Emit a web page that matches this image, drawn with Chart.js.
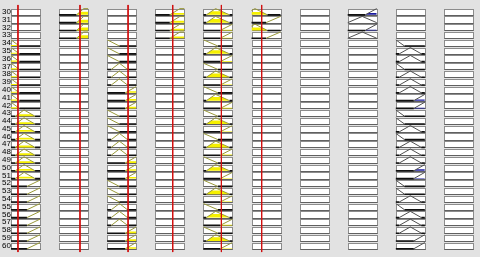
<!DOCTYPE html>
<html>
<head>
<meta charset="utf-8">
<script src="https://cdn.jsdelivr.net/npm/chart.js@4/dist/chart.umd.min.js"></script>
<style>
  html, body { margin: 0; padding: 0; background: #e2e2e2; }
  #wrap { width: 480px; height: 257px; }
</style>
</head>
<body>
<div id="wrap"><canvas id="myChart" width="480" height="257"></canvas></div>
<script>
// Rule numbers shown down the left side
var rules = [30, 31, 32, 33, 34, 35, 36, 37, 38, 39, 40, 41, 42, 43, 44, 45,
             46, 47, 48, 49, 50, 51, 52, 53, 54, 55, 56, 57, 58, 59, 60];

// Current input values (red lines) as a fraction of each variable's range, null = output column
var inputs = [0.24, 0.72, 0.72, 0.6, 0.62, 0.35, null, null, null, null];

// Membership functions per column, [x, degree] points over the range 0..1
var mfCol1 = { low: [[0, 1], [0.29, 0], [1, 0]], med: [[0, 0], [0.15, 0], [0.45, 1], [0.83, 0], [1, 0]], high: [[0, 0], [0.55, 0], [1, 1]] };
var mfCol2 = { high: [[0, 0], [0.6, 0], [0.85, 1], [1, 1]] };
var mfCol3 = { low: [[0, 1], [0.42, 0], [1, 0]], med: [[0, 0], [0.14, 0], [0.42, 1], [0.7, 0], [1, 0]], high: [[0, 0], [0.62, 0], [1, 1]] };
var mfCol4 = { high: [[0, 0], [0.5, 0], [0.85, 1], [1, 1]] };
var mfCol5 = { low: [[0, 1], [0.5, 0], [1, 0]], med: [[0, 0], [0.1, 0], [0.42, 1], [0.9, 0], [1, 0]], high: [[0, 0], [0.58, 0], [1, 1]] };
var mfCol6 = { low: [[0, 0.7], [0.12, 1], [0.55, 0], [1, 0]], high: [[0, 0], [0.5, 0], [1, 1]] };
var mfCol7 = {};
var mfCol8 = { med: [[0, 0], [0.5, 1], [1, 0]], high: [[0, 0], [0.6, 0], [1, 1]] };
var mfCol9 = { low: [[0, 1], [0.3, 0], [1, 0]], med: [[0, 0], [0.12, 0], [0.5, 1], [0.88, 0], [1, 0]], high: [[0, 0], [0.62, 0], [1, 1]] };
var mfCol10 = {};
var mfs = [mfCol1, mfCol2, mfCol3, mfCol4, mfCol5, mfCol6, mfCol7, mfCol8, mfCol9, mfCol10];

// Rule table: which MF each rule uses in each column ('' = not used)
var ruleTable = [
  ['', 'high', '', 'high', 'med', 'low', '', 'high', '', ''],
  ['', 'high', '', 'high', 'med', 'high', '', 'med', '', ''],
  ['', 'high', '', 'high', 'high', 'low', '', 'high', '', ''],
  ['', 'high', '', 'high', 'high', 'high', '', 'med', '', ''],
  ['low', '', 'low', '', 'low', '', '', '', 'low', ''],
  ['low', '', 'low', '', 'med', '', '', '', 'med', ''],
  ['low', '', 'low', '', 'high', '', '', '', 'med', ''],
  ['low', '', 'med', '', 'low', '', '', '', 'low', ''],
  ['low', '', 'med', '', 'med', '', '', '', 'med', ''],
  ['low', '', 'med', '', 'high', '', '', '', 'med', ''],
  ['low', '', 'high', '', 'low', '', '', '', 'med', ''],
  ['low', '', 'high', '', 'med', '', '', '', 'high', ''],
  ['low', '', 'high', '', 'high', '', '', '', 'high', ''],
  ['med', '', 'low', '', 'low', '', '', '', 'low', ''],
  ['med', '', 'low', '', 'med', '', '', '', 'low', ''],
  ['med', '', 'low', '', 'high', '', '', '', 'med', ''],
  ['med', '', 'med', '', 'low', '', '', '', 'low', ''],
  ['med', '', 'med', '', 'med', '', '', '', 'med', ''],
  ['med', '', 'med', '', 'high', '', '', '', 'med', ''],
  ['med', '', 'high', '', 'low', '', '', '', 'med', ''],
  ['med', '', 'high', '', 'med', '', '', '', 'high', ''],
  ['med', '', 'high', '', 'high', '', '', '', 'high', ''],
  ['high', '', 'low', '', 'low', '', '', '', 'low', ''],
  ['high', '', 'low', '', 'med', '', '', '', 'low', ''],
  ['high', '', 'low', '', 'high', '', '', '', 'med', ''],
  ['high', '', 'med', '', 'low', '', '', '', 'low', ''],
  ['high', '', 'med', '', 'med', '', '', '', 'med', ''],
  ['high', '', 'med', '', 'high', '', '', '', 'med', ''],
  ['high', '', 'high', '', 'low', '', '', '', 'med', ''],
  ['high', '', 'high', '', 'med', '', '', '', 'high', ''],
  ['high', '', 'high', '', 'high', '', '', '', 'high', '']
];

// layout of one cell (in axis units)
var BOX_W = 0.603;
var HALF_H = 0.4;
var NCOLS = 10;

// degree of a piecewise linear MF at x
function mfAt(pts, t) {
  for (var i = 1; i < pts.length; i++) {
    if (t <= pts[i][0]) {
      var a = pts[i - 1], b = pts[i];
      if (b[0] === a[0]) return b[1];
      return a[1] + (b[1] - a[1]) * (t - a[0]) / (b[0] - a[0]);
    }
  }
  return pts[pts.length - 1][1];
}

// MF cut off at a level: min(mf, level)
function clipped(pts, level) {
  var out = [];
  for (var i = 0; i < pts.length; i++) {
    if (i > 0) {
      var q = pts[i - 1], p = pts[i];
      if ((q[1] - level) * (p[1] - level) < 0) {
        out.push([q[0] + (level - q[1]) * (p[0] - q[0]) / (p[1] - q[1]), level]);
      }
    }
    out.push([pts[i][0], Math.min(pts[i][1], level)]);
  }
  return out;
}

var datasets = [];

ruleTable.forEach(function (row, i) {
  var r = rules[i];
  var bottom = r + HALF_H;

  // firing strength = min of the input degrees (AND)
  var firing = 1;
  row.forEach(function (name, c) {
    if (name && inputs[c] != null) firing = Math.min(firing, mfAt(mfs[c][name], inputs[c]));
  });

  row.forEach(function (name, c) {
    if (!name) return;
    var pts = mfs[c][name];
    var isOut = inputs[c] == null;
    var level = isOut ? firing : mfAt(pts, inputs[c]);
    var toXY = function (p) { return { x: c + p[0] * BOX_W, y: bottom - p[1] * 2 * HALF_H }; };
    var lineColor = isOut ? '#505050' : '#9a9a3a';

    if (level > 0.001) {
      datasets.push({
        data: clipped(pts, level).map(toXY),
        fill: { target: { value: bottom } },
        backgroundColor: isOut ? '#1a1aa0' : '#f5f000',
        borderWidth: 0,
        order: 3
      });
    }
    datasets.push({
      data: pts.map(toXY),
      borderColor: lineColor,
      borderWidth: 1,
      fill: false,
      segment: {
        borderColor: function (ctx) {
          return (ctx.p0.parsed.y === bottom && ctx.p1.parsed.y === bottom) ? '#111' : lineColor;
        },
        borderWidth: function (ctx) {
          return (ctx.p0.parsed.y === bottom && ctx.p1.parsed.y === bottom) ? 1.6 : 1;
        }
      },
      order: 2
    });
  });
});

// red input lines
var Y_MIN = 29.11, Y_MAX = 60.84;
inputs.forEach(function (v, c) {
  if (v == null) return;
  datasets.push({
    data: [{ x: c + v * BOX_W, y: Y_MIN }, { x: c + v * BOX_W, y: Y_MAX }],
    borderColor: '#d01010',
    borderWidth: 1,
    fill: false,
    order: 1
  });
});

// white boxes behind everything
var boxPlugin = {
  id: 'boxes',
  beforeDatasetsDraw: function (chart) {
    var ctx = chart.ctx, xs = chart.scales.x, ys = chart.scales.y;
    ctx.save();
    rules.forEach(function (r) {
      for (var c = 0; c < NCOLS; c++) {
        var x0 = Math.round(xs.getPixelForValue(c)) + 0.5;
        var x1 = Math.round(xs.getPixelForValue(c + BOX_W)) + 0.5;
        var y0 = Math.round(ys.getPixelForValue(r - HALF_H)) + 0.5;
        var y1 = Math.round(ys.getPixelForValue(r + HALF_H)) + 0.5;
        ctx.fillStyle = '#ffffff';
        ctx.fillRect(x0, y0, x1 - x0, y1 - y0);
        ctx.strokeStyle = '#8c8c8c';
        ctx.lineWidth = 1;
        ctx.strokeRect(x0, y0, x1 - x0, y1 - y0);
        ctx.strokeStyle = '#606060';
        ctx.beginPath();
        ctx.moveTo(x0, y1);
        ctx.lineTo(x1, y1);
        ctx.stroke();
      }
    });
    ctx.restore();
  }
};

var chart = new Chart(document.getElementById('myChart').getContext('2d'), {
  type: 'scatter',
  data: { datasets: datasets },
  options: {
    responsive: false,
    animation: false,
    showLine: true,
    elements: { point: { radius: 0 }, line: { tension: 0 } },
    layout: { padding: 0 },
    scales: {
      x: { type: 'linear', min: 0, max: 9.75, display: false },
      y: {
        type: 'linear',
        reverse: true,
        min: Y_MIN,
        max: Y_MAX,
        grid: { display: false, drawTicks: false },
        border: { display: false },
        afterBuildTicks: function (scale) {
          scale.ticks = rules.map(function (v) { return { value: v }; });
        },
        afterFit: function (scale) { scale.width = 11; },
        ticks: {
          color: '#000',
          padding: 0,
          font: { family: 'Liberation Sans', size: 8 },
          autoSkip: false
        }
      }
    },
    plugins: { legend: { display: false }, tooltip: { enabled: false } }
  },
  plugins: [boxPlugin]
});
</script>
</body>
</html>
